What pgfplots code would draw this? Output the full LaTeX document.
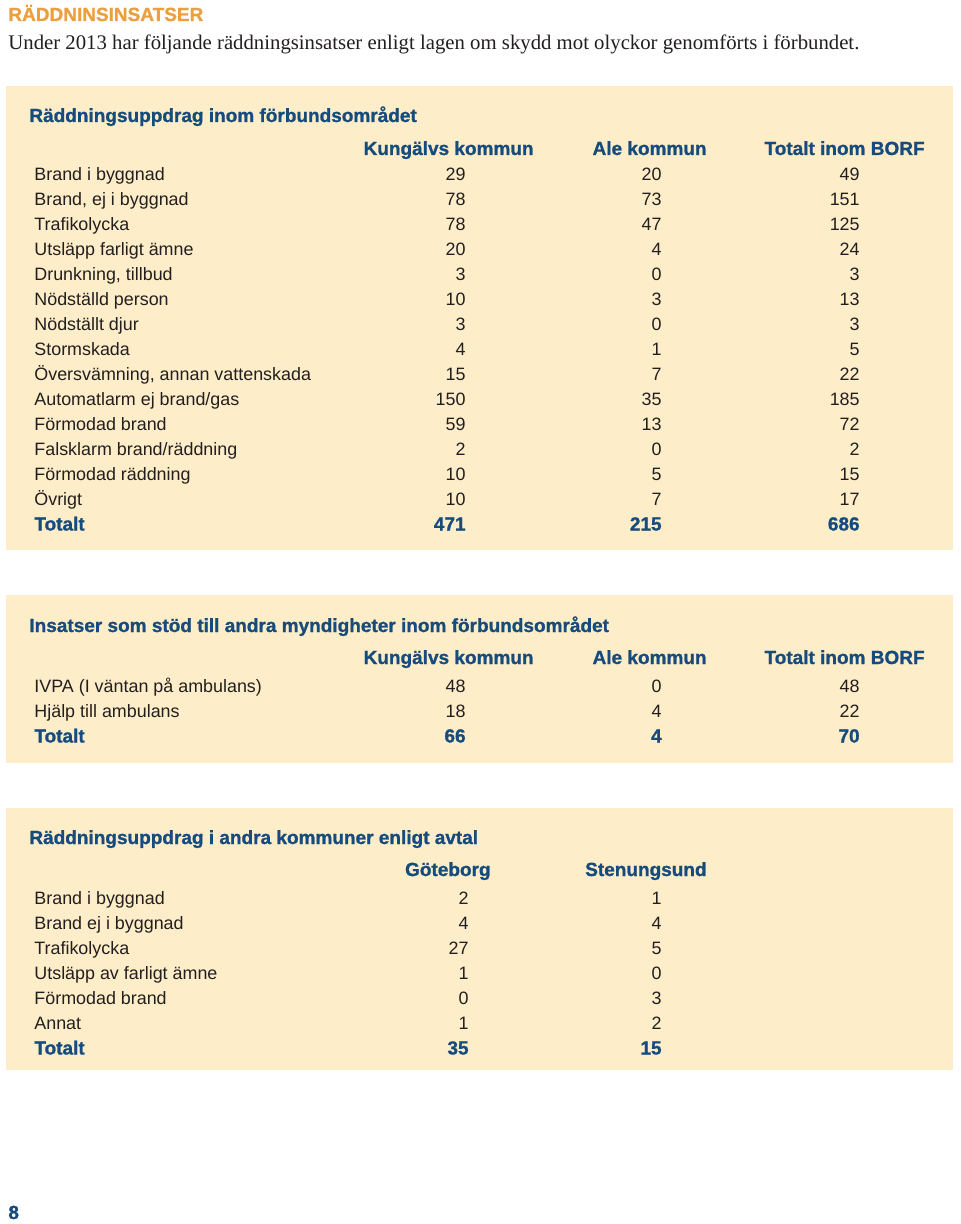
\documentclass[border=0pt]{standalone}
\usepackage{pgfplots}
\usepackage{pgfplotstable}
\pgfplotsset{compat=1.18}
\usepackage{fontspec}
\setmainfont{Liberation Sans}
\newfontfamily\serifface{Liberation Serif}
\newfontfamily\heavy[FakeBold=1.0]{Liberation Sans Bold}
\definecolor{bg}{HTML}{FDEDC8}
\definecolor{navy}{HTML}{164B7D}
\definecolor{orng}{HTML}{EBA040}
\definecolor{txt}{HTML}{231F20}
\newcommand\body{\fontsize{8.95}{11}\selectfont}
\newcommand\hd{\heavy\fontsize{9.5}{11}\selectfont}

\pgfplotstableread[col sep=semicolon]{
y;name;k;a;t
180.5;Brand i byggnad;29;20;49
205.5;Brand, ej i byggnad;78;73;151
230.5;Trafikolycka;78;47;125
255.5;Utsläpp farligt ämne;20;4;24
280.5;Drunkning, tillbud;3;0;3
305.5;Nödställd person;10;3;13
330.5;Nödställt djur;3;0;3
355.5;Stormskada;4;1;5
380.5;Översvämning, annan vattenskada;15;7;22
405.5;Automatlarm ej brand/gas;150;35;185
430.5;Förmodad brand;59;13;72
455.5;Falsklarm brand/räddning;2;0;2
480.5;Förmodad räddning;10;5;15
505.5;Övrigt;10;7;17
}\tabA
\pgfplotstableread[col sep=semicolon]{
y;name;k;a;t
530.5;Totalt;471;215;686
}\totA
\pgfplotstableread[col sep=semicolon]{
y;name;k;a;t
692.5;IVPA (I väntan på ambulans);48;0;48
717.5;Hjälp till ambulans;18;4;22
}\tabB
\pgfplotstableread[col sep=semicolon]{
y;name;k;a;t
742.5;Totalt;66;4;70
}\totB
\pgfplotstableread[col sep=semicolon]{
y;name;g;s
904.5;Brand i byggnad;2;1
929.5;Brand ej i byggnad;4;4
954.5;Trafikolycka;27;5
979.5;Utsläpp av farligt ämne;1;0
1004.5;Förmodad brand;0;3
1029.5;Annat;1;2
}\tabC
\pgfplotstableread[col sep=semicolon]{
y;name;g;s
1054.5;Totalt;35;15
}\totC

\pgfplotsset{
  lbl/.style={draw=none, mark=none, nodes near coords, point meta=explicit symbolic,
    nodes near coords style={anchor=base west, inner sep=0pt, font=\body, text=txt}},
  num/.style={draw=none, mark=none, nodes near coords, point meta=explicit symbolic,
    nodes near coords style={anchor=base east, inner sep=0pt, font=\body, text=txt}},
  tlbl/.style={draw=none, mark=none, nodes near coords, point meta=explicit symbolic,
    nodes near coords style={anchor=base west, inner sep=0pt, font=\hd, text=navy}},
  tnum/.style={draw=none, mark=none, nodes near coords, point meta=explicit symbolic,
    nodes near coords style={anchor=base east, inner sep=0pt, font=\hd, text=navy}},
}

\begin{document}
\begin{tikzpicture}
\begin{axis}[
  width=480pt, height=612pt, scale only axis,
  xmin=0, xmax=960, ymin=0, ymax=1224, y dir=reverse,
  axis lines=none, ticks=none, clip=false,
]
\addplot[fill=white, draw=none] coordinates {(0,0) (960,0) (960,1224) (0,1224)};
\addplot[fill=bg, draw=none] coordinates {(6,86) (953,86) (953,550) (6,550)};
\addplot[fill=bg, draw=none] coordinates {(6,595) (953,595) (953,763) (6,763)};
\addplot[fill=bg, draw=none] coordinates {(6,808) (953,808) (953,1070) (6,1070)};

\node[anchor=base west, inner sep=0pt, text=orng, font=\heavy\fontsize{9.5}{11}\selectfont] at (axis cs:8,21) {RÄDDNINSINSATSER};
\node[anchor=base west, inner sep=0pt, text=txt, font=\serifface\fontsize{10.38}{12}\selectfont] at (axis cs:8,50) {Under 2013 har följande räddningsinsatser enligt lagen om skydd mot olyckor genomförts i förbundet.};

% Box 1
\node[anchor=base west, inner sep=0pt, text=navy, font=\hd] at (axis cs:29,122) {Räddningsuppdrag inom förbundsområdet};
\node[anchor=base east, inner sep=0pt, text=navy, font=\hd] at (axis cs:534,155) {Kungälvs kommun};
\node[anchor=base east, inner sep=0pt, text=navy, font=\hd] at (axis cs:707,155) {Ale kommun};
\node[anchor=base east, inner sep=0pt, text=navy, font=\hd] at (axis cs:925,155) {Totalt inom BORF};
\addplot[lbl] table[x expr=34, y=y, meta=name]{\tabA};
\addplot[num] table[x expr=466, y=y, meta=k]{\tabA};
\addplot[num] table[x expr=662, y=y, meta=a]{\tabA};
\addplot[num] table[x expr=860, y=y, meta=t]{\tabA};
\addplot[tlbl] table[x expr=34, y=y, meta=name]{\totA};
\addplot[tnum] table[x expr=466, y=y, meta=k]{\totA};
\addplot[tnum] table[x expr=662, y=y, meta=a]{\totA};
\addplot[tnum] table[x expr=860, y=y, meta=t]{\totA};

% Box 2
\node[anchor=base west, inner sep=0pt, text=navy, font=\hd] at (axis cs:29,632) {Insatser som stöd till andra myndigheter inom förbundsområdet};
\node[anchor=base east, inner sep=0pt, text=navy, font=\hd] at (axis cs:534,664) {Kungälvs kommun};
\node[anchor=base east, inner sep=0pt, text=navy, font=\hd] at (axis cs:707,664) {Ale kommun};
\node[anchor=base east, inner sep=0pt, text=navy, font=\hd] at (axis cs:925,664) {Totalt inom BORF};
\addplot[lbl] table[x expr=34, y=y, meta=name]{\tabB};
\addplot[num] table[x expr=466, y=y, meta=k]{\tabB};
\addplot[num] table[x expr=662, y=y, meta=a]{\tabB};
\addplot[num] table[x expr=860, y=y, meta=t]{\tabB};
\addplot[tlbl] table[x expr=34, y=y, meta=name]{\totB};
\addplot[tnum] table[x expr=466, y=y, meta=k]{\totB};
\addplot[tnum] table[x expr=662, y=y, meta=a]{\totB};
\addplot[tnum] table[x expr=860, y=y, meta=t]{\totB};

% Box 3
\node[anchor=base west, inner sep=0pt, text=navy, font=\hd] at (axis cs:29,844) {Räddningsuppdrag i andra kommuner enligt avtal};
\node[anchor=base east, inner sep=0pt, text=navy, font=\hd] at (axis cs:491,876) {Göteborg};
\node[anchor=base east, inner sep=0pt, text=navy, font=\hd] at (axis cs:707,876) {Stenungsund};
\addplot[lbl] table[x expr=34, y=y, meta=name]{\tabC};
\addplot[num] table[x expr=469, y=y, meta=g]{\tabC};
\addplot[num] table[x expr=662, y=y, meta=s]{\tabC};
\addplot[tlbl] table[x expr=34, y=y, meta=name]{\totC};
\addplot[tnum] table[x expr=469, y=y, meta=g]{\totC};
\addplot[tnum] table[x expr=662, y=y, meta=s]{\totC};

\node[anchor=base west, inner sep=0pt, text=navy, font=\heavy\fontsize{9.5}{11}\selectfont] at (axis cs:8,1219) {8};
\end{axis}
\end{tikzpicture}
\end{document}
